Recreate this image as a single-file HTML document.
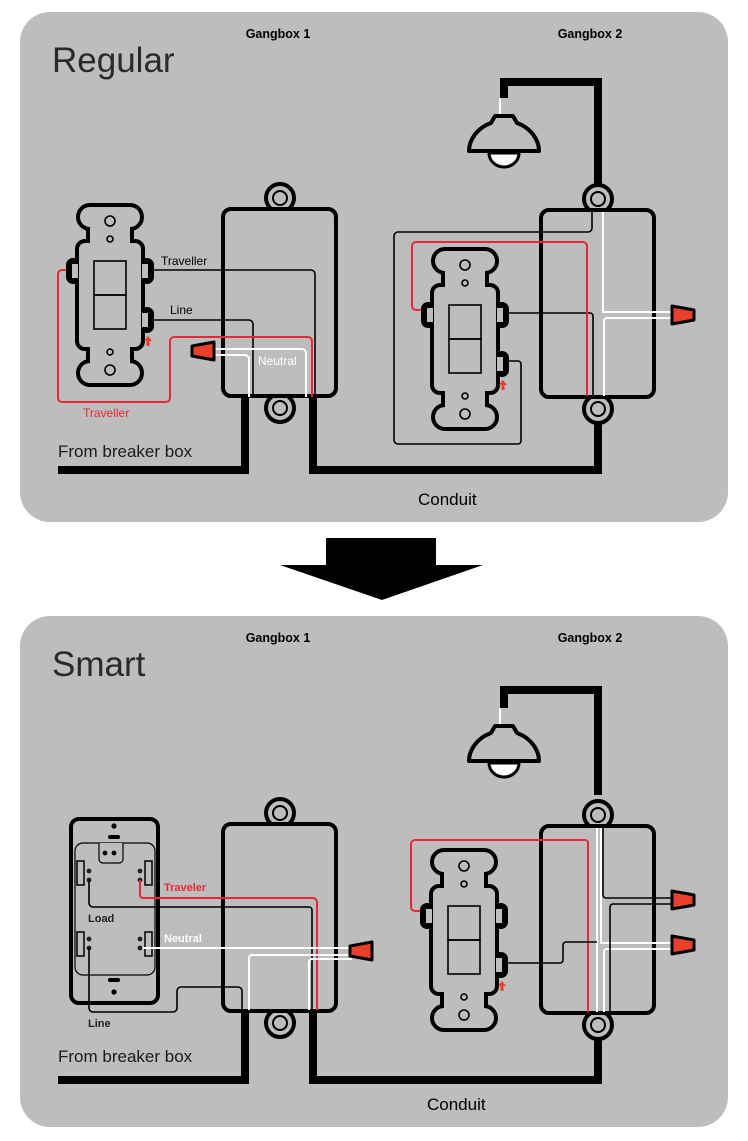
<!DOCTYPE html>
<html><head><meta charset="utf-8"><style>
html,body{margin:0;padding:0;background:#fff;}
svg{display:block;}
text{font-family:"Liberation Sans",Arial,sans-serif;}
</style></head><body>
<svg width="748" height="1141" viewBox="0 0 748 1141" xmlns="http://www.w3.org/2000/svg">
<defs>
<g id="sw">
  <g fill="#000" stroke="#000" stroke-width="8" stroke-linejoin="round">
    <rect x="1" y="-36" width="60" height="20" rx="10"/>
    <rect x="11" y="-26" width="40" height="30"/>
    <rect x="1" y="120" width="60" height="20" rx="10"/>
    <rect x="11" y="100" width="40" height="30"/>
    <rect x="0" y="0" width="62" height="104" rx="6"/>
    <rect x="-9" y="19" width="10" height="18" rx="3"/>
    <rect x="61" y="19" width="10" height="18" rx="3"/>
    <rect x="61" y="68" width="10" height="18" rx="3"/>
  </g>
  <g fill="#bdbdbd">
    <rect x="1" y="-36" width="60" height="20" rx="10"/>
    <rect x="11" y="-26" width="40" height="30"/>
    <rect x="1" y="120" width="60" height="20" rx="10"/>
    <rect x="11" y="100" width="40" height="30"/>
    <rect x="0" y="0" width="62" height="104" rx="6"/>
    <rect x="-7" y="21" width="6" height="14"/>
    <rect x="63" y="21" width="6" height="14"/>
    <rect x="63" y="70" width="6" height="14"/>
  </g>
  <g fill="none" stroke="#000" stroke-width="1.6">
    <circle cx="31" cy="-22" r="5"/><circle cx="31" cy="-4" r="3"/>
    <circle cx="31" cy="109" r="3"/><circle cx="31" cy="127" r="5"/>
    <rect x="15" y="18" width="32" height="34"/><rect x="15" y="52" width="32" height="34"/>
  </g>
  <path d="M69,93 l4,5 h-2.5 v5 h-3 v-5 h-2.5z" fill="#e8402a"/>
</g>
<g id="lamp">
  <path d="M500,-5 v16" stroke="#fff" stroke-width="2"/>
  <path d="M495,13 h18 l4,7 c14,5 22,17 22,28 h-70 c0,-11 8,-23 22,-28z" fill="#bdbdbd" stroke="#000" stroke-width="4" stroke-linejoin="round"/>
  <path d="M489,50 a15,14 0 0 0 30,0z" fill="#fff" stroke="#000" stroke-width="3"/>
</g>
<g id="box">
  <circle cx="57" cy="-11" r="14" fill="#bdbdbd" stroke="#000" stroke-width="4"/>
  <circle cx="57" cy="199" r="14" fill="#bdbdbd" stroke="#000" stroke-width="4"/>
  <rect x="0" y="0" width="113" height="187" rx="8" fill="#bdbdbd" stroke="#000" stroke-width="4"/>
  <circle cx="57" cy="-11" r="7" fill="none" stroke="#000" stroke-width="2"/>
  <circle cx="57" cy="199" r="7" fill="none" stroke="#000" stroke-width="2"/>
</g>
<g id="nut">
  <path d="M0,-2 L22,2 v10 L0,16z" fill="#e8402a" stroke="#000" stroke-width="3" stroke-linejoin="round"/>
</g>
</defs>

<rect x="20" y="12" width="708" height="510" rx="30" fill="#bdbdbd"/>
<rect x="20" y="616" width="708" height="511" rx="30" fill="#bdbdbd"/>
<rect x="326" y="538" width="110" height="28" fill="#000"/>
<path d="M280,565 H483 L382,600z" fill="#000"/>

<!-- ===== TOP ===== -->
<text x="52" y="72" font-size="35" fill="#2a2a2a">Regular</text>
<text x="278" y="38" font-size="12.5" font-weight="bold" text-anchor="middle">Gangbox 1</text>
<text x="590" y="38" font-size="12.5" font-weight="bold" text-anchor="middle">Gangbox 2</text>

<path d="M58,470 H245 V395 M313,395 V470 H598 V400" fill="none" stroke="#000" stroke-width="8"/>
<path d="M598,185 V82 H504 V98" fill="none" stroke="#000" stroke-width="8"/>
<use href="#lamp" y="103"/>

<use href="#box" x="223" y="209"/>
<use href="#box" x="541" y="210"/>

<path d="M150,270 H311 a4,4 0 0 1 4,4 V397" fill="none" stroke="#000" stroke-width="1.6"/>
<path d="M150,320 H249 a4,4 0 0 1 4,4 V397" fill="none" stroke="#000" stroke-width="1.6"/>
<path d="M70,270 H62 a4,4 0 0 0 -4,4 V398 a4,4 0 0 0 4,4 H166 a4,4 0 0 0 4,-4 V341 a4,4 0 0 1 4,-4 H308 a4,4 0 0 1 4,4 V397" fill="none" stroke="#e8283a" stroke-width="2"/>
<path d="M214,349 H302 a4,4 0 0 1 4,4 V397 M214,355 H245 a4,4 0 0 1 4,4 V397" fill="none" stroke="#fff" stroke-width="2"/>
<use href="#nut" x="190" y="344" transform="rotate(180 202 351)"/>
<text x="161" y="265" font-size="12">Traveller</text>
<text x="170" y="314" font-size="12">Line</text>
<text x="258" y="365" font-size="12" fill="#fff">Neutral</text>
<text x="83" y="417" font-size="12" fill="#e8283a">Traveller</text>
<text x="58" y="457" font-size="17" fill="#1a1a1a">From breaker box</text>
<text x="418" y="505" font-size="17" fill="#000">Conduit</text>

<path d="M592,212 V228 a4,4 0 0 1 -4,4 H398 a4,4 0 0 0 -4,4 V440 a4,4 0 0 0 4,4 H518 a3,3 0 0 0 3,-3 V364 a3,3 0 0 0 -3,-3 H505" fill="none" stroke="#000" stroke-width="1.6"/>
<path d="M505,313 H590 a3,3 0 0 1 3,3 V397" fill="none" stroke="#000" stroke-width="1.6"/>
<path d="M424,310 H416 a4,4 0 0 1 -4,-4 V246 a4,4 0 0 1 4,-4 H583 a4,4 0 0 1 4,4 V396" fill="none" stroke="#e8283a" stroke-width="2"/>
<path d="M603,212 V312 H674 M674,318 H607 a3,3 0 0 0 -3,3 V396" fill="none" stroke="#fff" stroke-width="2"/>
<use href="#nut" x="672" y="308"/>
<use href="#sw" x="79" y="243"/>
<use href="#sw" x="434" y="287"/>

<!-- ===== BOTTOM ===== -->
<text x="52" y="676" font-size="35" fill="#2a2a2a">Smart</text>
<text x="278" y="642" font-size="12.5" font-weight="bold" text-anchor="middle">Gangbox 1</text>
<text x="590" y="642" font-size="12.5" font-weight="bold" text-anchor="middle">Gangbox 2</text>

<path d="M58,1080 H245 V1008 M313,1008 V1080 H598 V1015" fill="none" stroke="#000" stroke-width="8"/>
<path d="M598,795 V690 H504 V708" fill="none" stroke="#000" stroke-width="8"/>
<use href="#lamp" y="713"/>

<use href="#box" x="223" y="824"/>
<use href="#box" x="541" y="826"/>

<rect x="71" y="819" width="87" height="184" rx="8" fill="#bdbdbd" stroke="#000" stroke-width="4"/>
<rect x="75" y="843" width="80" height="132" rx="8" fill="none" stroke="#000" stroke-width="1.2"/>
<path d="M99,843 v16 a4,4 0 0 0 4,4 h16 a4,4 0 0 0 4,-4 v-16" fill="#bdbdbd" stroke="#000" stroke-width="1.2"/>
<circle cx="114" cy="826" r="2.6"/><rect x="108" y="835" width="12" height="4" rx="2"/>
<circle cx="105" cy="853" r="2.4"/><circle cx="114" cy="853" r="2.4"/>
<rect x="108" y="978" width="12" height="4" rx="2"/><circle cx="114" cy="992" r="2.6"/>
<g fill="#bdbdbd" stroke="#000" stroke-width="1.5">
<rect x="77" y="861" width="7" height="24"/><rect x="145" y="861" width="7" height="24"/>
<rect x="77" y="932" width="7" height="24"/><rect x="145" y="932" width="7" height="24"/>
</g>
<g fill="#222">
<circle cx="89" cy="871" r="2.4"/><circle cx="89" cy="880" r="2.4"/>
<circle cx="140" cy="871" r="2.4"/><circle cx="140" cy="880" r="2.4"/>
<circle cx="89" cy="939" r="2.4"/><circle cx="89" cy="948" r="2.4"/>
<circle cx="140" cy="939" r="2.4"/>
</g>
<path d="M140,880 V895 a3,3 0 0 0 3,3 H313 a4,4 0 0 1 4,4 V1010" fill="none" stroke="#e8283a" stroke-width="2"/>
<path d="M89,880 V903 a4,4 0 0 0 4,4 H309 a3,3 0 0 1 3,3 V1010" fill="none" stroke="#000" stroke-width="1.6"/>
<path d="M89,948 V1008 a4,4 0 0 0 4,4 H173 a4,4 0 0 0 4,-4 V991 a4,4 0 0 1 4,-4 H238 a4,4 0 0 1 4,4 V1010" fill="none" stroke="#000" stroke-width="1.6"/>
<path d="M140,948 H352" fill="none" stroke="#fff" stroke-width="2"/>
<circle cx="140" cy="948" r="2.4" fill="#222"/>
<path d="M352,955 H252 a3,3 0 0 0 -3,3 V1010 M352,959 H312 a3,3 0 0 0 -3,3 V1010" fill="none" stroke="#fff" stroke-width="2"/>
<use href="#nut" x="350" y="944" transform="rotate(180 361 951)"/>
<text x="164" y="891" font-size="11" font-weight="bold" fill="#e8283a">Traveler</text>
<text x="164" y="942" font-size="11" font-weight="bold" fill="#fff">Neutral</text>
<text x="88" y="922" font-size="11" font-weight="bold" fill="#222">Load</text>
<text x="88" y="1027" font-size="11" font-weight="bold" fill="#222">Line</text>
<text x="58" y="1062" font-size="17" fill="#1a1a1a">From breaker box</text>
<text x="427" y="1110" font-size="17" fill="#000">Conduit</text>

<path d="M424,911 H415 a4,4 0 0 1 -4,-4 V844 a4,4 0 0 1 4,-4 H585 a3,3 0 0 1 3,3 V1012" fill="none" stroke="#e8283a" stroke-width="2"/>
<path d="M597,828 V1012 M601,828 V943 H674 M674,949 H607 a3,3 0 0 0 -3,3 V1012" fill="none" stroke="#fff" stroke-width="2"/>
<path d="M603,828 V895 a3,3 0 0 0 3,3 H674 M674,904 H613 a3,3 0 0 0 -3,3 V1012" fill="none" stroke="#000" stroke-width="1.6"/>
<path d="M505,963 H560 a3,3 0 0 0 3,-3 V945 a3,3 0 0 1 3,-3 H597" fill="none" stroke="#000" stroke-width="1.6"/>
<use href="#nut" x="672" y="893"/>
<use href="#nut" x="672" y="938"/>
<use href="#sw" x="433" y="888"/>
</svg>
</body></html>
